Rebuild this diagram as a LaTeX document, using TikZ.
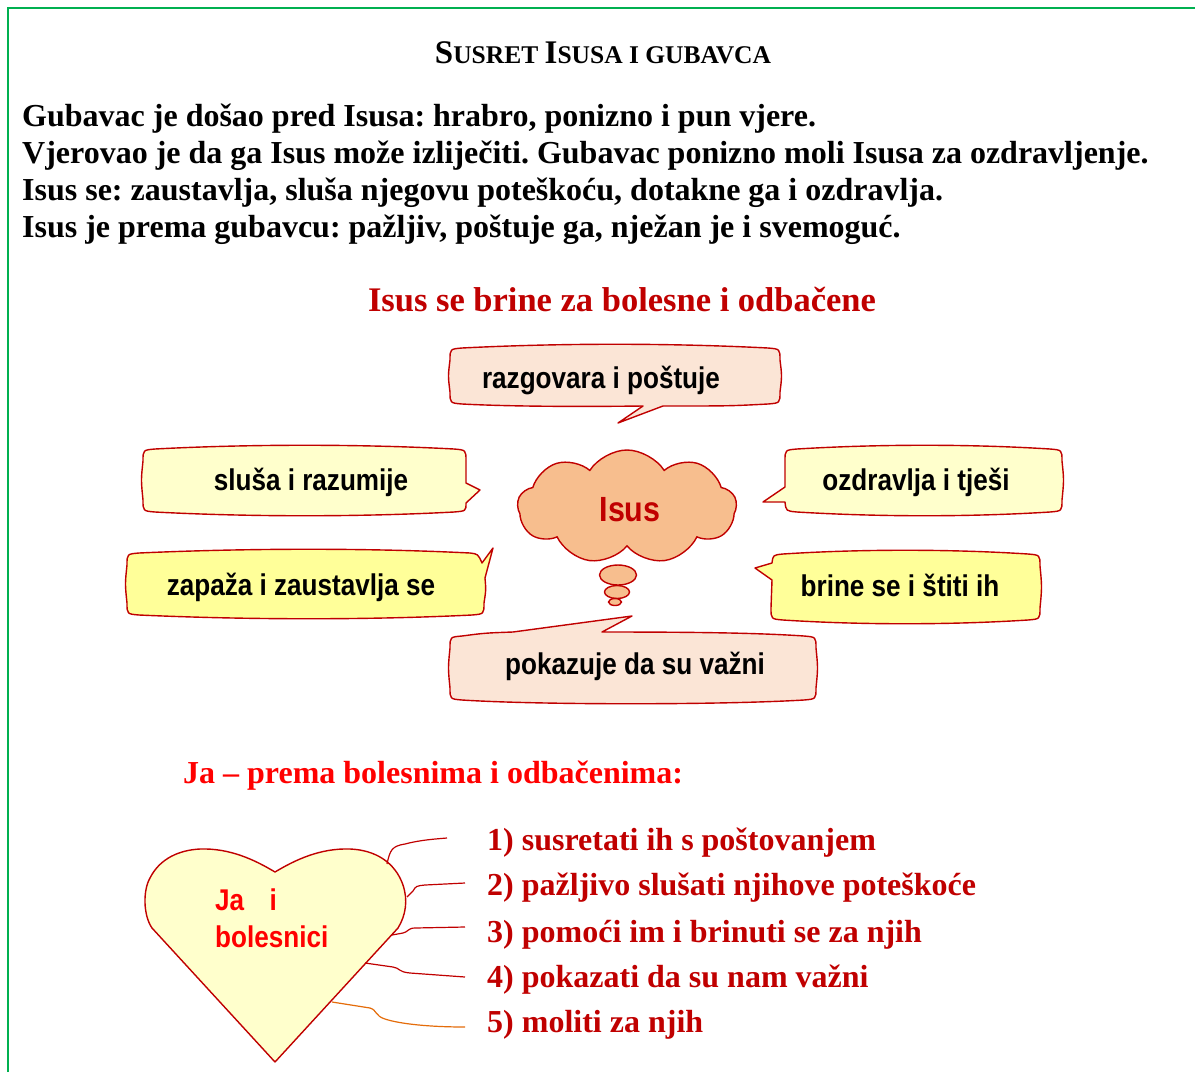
\documentclass[tikz,border=0pt]{standalone}
\usepackage{fontspec}
\setmainfont{Liberation Serif}
\newfontfamily\nsans[FakeStretch=0.87]{Liberation Sans}
\usetikzlibrary{shapes.symbols,shapes.geometric}
\definecolor{dred}{HTML}{C00000}
\definecolor{bred}{HTML}{FF0000}
\definecolor{gborder}{HTML}{00B050}
\definecolor{peach}{HTML}{FBE5D6}
\definecolor{paley}{HTML}{FFFFCC}
\definecolor{yel}{HTML}{FFFF99}
\definecolor{cloudc}{HTML}{F7BE8E}
\definecolor{orline}{HTML}{E46C0A}
\frenchspacing
\tikzset{
  cbox/.style={draw=dred, line width=1.4pt, line join=round},
  ctext/.style={anchor=base, inner sep=0pt, font=\nsans\bfseries\fontsize{30}{32}\selectfont},
  body/.style={anchor=base west, inner sep=0pt, font=\bfseries\fontsize{32}{36}\selectfont},
  item/.style={anchor=base west, inner sep=0pt, text=dred, font=\bfseries\fontsize{32}{34}\selectfont},
  leader/.style={draw=dred, line width=1.2pt},
}
\begin{document}
\begin{tikzpicture}[x=1pt,y=-1pt]
\useasboundingbox (0,0) rectangle (1195,1072);
% green frame
\draw[gborder, line width=2pt] (8,1072) -- (8,8) -- (1195,8);
% title
\node[anchor=base, inner sep=0pt, font=\bfseries] (title) at (603,63)
 {\fontsize{33}{35}\selectfont S\fontsize{25.5}{28}\selectfont USRET \fontsize{33}{35}\selectfont I\fontsize{25.5}{28}\selectfont SUSA I GUBAVCA};
% body lines
\node[body] (l1) at (22,126) {Gubavac je došao pred Isusa: hrabro, ponizno i pun vjere.};
\node[body] (l2) at (22,163) {Vjerovao je da ga Isus može izliječiti. Gubavac ponizno moli Isusa za ozdravljenje.};
\node[body] (l3) at (22,200) {Isus se: zaustavlja, sluša njegovu poteškoću, dotakne ga i ozdravlja.};
\node[body] (l4) at (22,237) {Isus je prema gubavcu: pažljiv, poštuje ga, nježan je i svemoguć.};
% red title
\node[anchor=base, inner sep=0pt, text=dred, font=\bfseries\fontsize{34.5}{37}\selectfont] (sub) at (622,311) {Isus se brine za bolesne i odbačene};

% callout 1
\draw[cbox, fill=peach] (462,348) .. controls (560,343) and (670,343) .. (768,348) .. controls (780,349) .. (780,360) .. controls (782,376) .. (780,392) .. controls (780,403) .. (768,404) .. controls (730,406) .. (663,406) -- (618,423) -- (643,406) .. controls (560,407) and (500,406) .. (462,404) .. controls (450,403) .. (450,392) .. controls (448,376) .. (450,360) .. controls (450,349) .. (462,348) -- cycle;
\node[ctext] (c1) at (601,388) {razgovara i poštuje};
% callout 2
\draw[cbox, fill=paley] (155,449) .. controls (250,444) and (360,444) .. (454,449) .. controls (466,450) .. (466,461) -- (466,483) -- (480,490) -- (466,503) .. controls (466,511) .. (454,512) .. controls (360,517) and (250,517) .. (155,512) .. controls (143,511) .. (143,500) .. controls (141,480) .. (143,461) .. controls (143,450) .. (155,449) -- cycle;
\node[ctext] (c2) at (311,490) {sluša i razumije};
% callout 3
\draw[cbox, fill=paley] (797,449) .. controls (880,444) and (970,444) .. (1050,449) .. controls (1062,450) .. (1062,461) .. controls (1064,480) .. (1062,500) .. controls (1062,511) .. (1050,512) .. controls (970,517) and (880,517) .. (797,512) .. controls (786,511) .. (785,502) -- (763,502) -- (785,487) -- (785,461) .. controls (785,450) .. (797,449) -- cycle;
\node[ctext] (c3) at (916,490) {ozdravlja i tješi};
% callout 4
\draw[cbox, fill=yel] (783,554) .. controls (860,549) and (950,549) .. (1028,554) .. controls (1040,555) .. (1040,566) .. controls (1042,587) .. (1040,608) .. controls (1040,619) .. (1028,620) .. controls (950,625) and (860,625) .. (783,620) .. controls (771,619) .. (771,608) -- (772,580) -- (755,568) -- (772,563) .. controls (773,555) .. (783,554) -- cycle;
\node[ctext] (c4) at (900,596) {brine se i štiti ih};
% callout 5
\draw[cbox, fill=yel] (139,553) .. controls (250,548) and (370,548) .. (470,553) .. controls (478,554) .. (482,563) -- (493,548) -- (485,578) .. controls (486,590) .. (484,603) .. controls (484,614) .. (472,615) .. controls (370,620) and (250,620) .. (139,615) .. controls (127,614) .. (127,603) .. controls (125,584) .. (127,565) .. controls (127,554) .. (139,553) -- cycle;
\node[ctext] (c5) at (301,595) {zapaža i zaustavlja se};
% callout 6
\draw[cbox, fill=peach] (462,636) .. controls (485,633) .. (513,632) -- (632,616) -- (602,632) .. controls (700,632) and (760,633) .. (804,636) .. controls (816,637) .. (816,648) .. controls (818,668) .. (816,688) .. controls (816,699) .. (804,700) .. controls (720,705) and (540,705) .. (462,700) .. controls (450,699) .. (450,688) .. controls (448,668) .. (450,648) .. controls (450,637) .. (462,636) -- cycle;
\node[ctext] (c6) at (635,674) {pokazuje da su važni};

% cloud
\node[shape=cloud, cloud puffs=9, cloud puff arc=115, aspect=1.9, draw=dred, fill=cloudc, line width=1.4pt, minimum width=219pt, minimum height=114pt, inner sep=0pt] (isus) at (627,507) {};
\node[ellipse, draw=dred, fill=cloudc, line width=1.4pt, minimum width=37pt, minimum height=20pt, inner sep=0pt] (b1) at (618,575) {};
\node[ellipse, draw=dred, fill=cloudc, line width=1.4pt, minimum width=25pt, minimum height=13pt, inner sep=0pt] (b2) at (617,592) {};
\node[ellipse, draw=dred, fill=cloudc, line width=1.4pt, minimum width=13pt, minimum height=7pt, inner sep=0pt] (b3) at (615,602) {};
\node[anchor=base, inner sep=0pt, text=dred, font=\nsans\bfseries\fontsize{35}{37}\selectfont] (isustext) at (630,521) {Isus};

% Ja line
\node[anchor=base west, inner sep=0pt, text=bred, font=\bfseries\fontsize{32}{34}\selectfont] (ja) at (183,783) {Ja -- prema bolesnima i odbačenima:};

% heart
\draw[cbox, fill=paley] (275,1062) -- (152,928) .. controls (143,915) and (143,890) .. (150,878) .. controls (160,858) and (180,850) .. (200,849) .. controls (230,848) and (255,860) .. (275,872) .. controls (295,860) and (320,848) .. (350,849) .. controls (375,850) and (395,862) .. (403,885) .. controls (408,900) and (406,915) .. (398,928) -- cycle;
\node[anchor=base west, inner sep=0pt, text=bred, font=\nsans\bfseries\fontsize{30}{32}\selectfont] (hj) at (215,910) {Ja\hspace{0.85em}i};
\node[anchor=base west, inner sep=0pt, text=bred, font=\nsans\bfseries\fontsize{30}{32}\selectfont] (hb) at (215,947) {bolesnici};

% leader coordinates
\coordinate (h1) at (387,864); \coordinate (e1) at (447,838);
\coordinate (h2) at (407,897); \coordinate (e2) at (465,883);
\coordinate (h3) at (392,935); \coordinate (e3) at (465,927);
\coordinate (h4) at (365,963); \coordinate (e4) at (465,977);
\coordinate (h5) at (332,1002); \coordinate (e5) at (465,1027);
\draw[leader] (h1) .. controls (390,850) and (392,846) .. (405,844) .. controls (420,840) and (435,839) .. (e1);
\draw[leader] (h2) -- (413,891) .. controls (416,886) .. (425,885) -- (e2);
\draw[leader] (h3) -- (403,933) .. controls (408,932) and (408,928) .. (415,928) -- (e3);
\draw[leader] (h4) -- (393,967) .. controls (400,968) and (398,972) .. (410,973) -- (e4);
\draw[leader, draw=orline] (h5) -- (370,1008) .. controls (377,1010) and (375,1016) .. (385,1019) .. controls (400,1024) and (430,1027) .. (e5);

% items
\node[item] (i1) at (487,850) {1) susretati ih s poštovanjem};
\node[item] (i2) at (487,895) {2) pažljivo slušati njihove poteškoće};
\node[item] (i3) at (487,942) {3) pomoći im i brinuti se za njih};
\node[item] (i4) at (487,987) {4) pokazati da su nam važni};
\node[item] (i5) at (487,1032) {5) moliti za njih};
\end{tikzpicture}
\end{document}
